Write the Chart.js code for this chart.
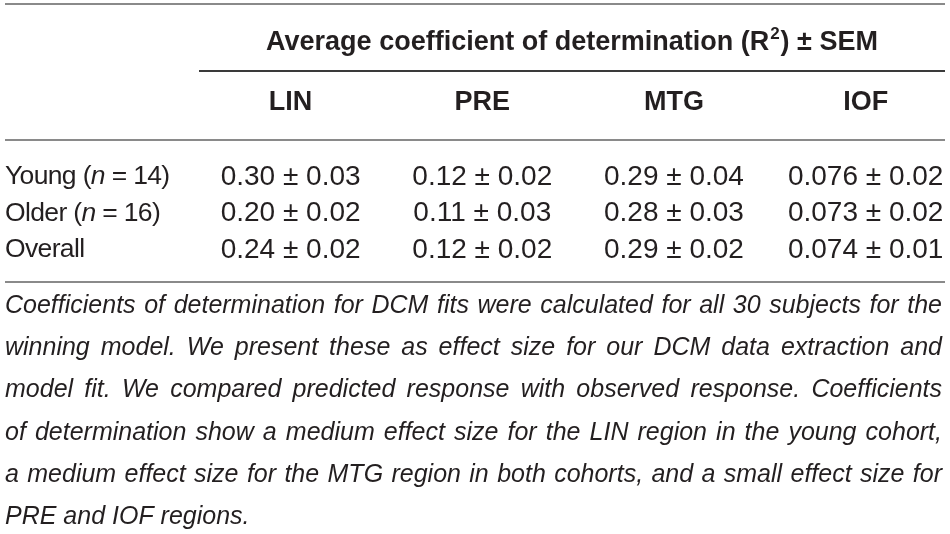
<!DOCTYPE html>
<html>
<head>
<meta charset="utf-8">
<script src="https://cdn.jsdelivr.net/npm/chart.js@4"></script>
<style>
html,body{margin:0;padding:0;background:#fff;}
canvas{display:block;}
</style>
</head>
<body>
<canvas id="c" width="950" height="534"></canvas>
<script>
// ---- Data ----
const title = 'Average coefficient of determination (R';
const titleSup = '2';
const titleEnd = ') \u00b1 SEM';
const regions = ['LIN', 'PRE', 'MTG', 'IOF'];
const decimals = [2, 2, 2, 3];
const cohorts = ['Young', 'Older', 'Overall'];
const cohortN = [14, 16, null];
const youngMean = [0.30, 0.12, 0.29, 0.076];
const youngSem = [0.03, 0.02, 0.04, 0.02];
const olderMean = [0.20, 0.11, 0.28, 0.073];
const olderSem = [0.02, 0.03, 0.03, 0.02];
const overallMean = [0.24, 0.12, 0.29, 0.074];
const overallSem = [0.02, 0.02, 0.02, 0.01];
const captionLines = [
  'Coefficients of determination for DCM fits were calculated for all 30 subjects for the',
  'winning model. We present these as effect size for our DCM data extraction and',
  'model fit. We compared predicted response with observed response. Coefficients',
  'of determination show a medium effect size for the LIN region in the young cohort,',
  'a medium effect size for the MTG region in both cohorts, and a small effect size for',
  'PRE and IOF regions.'
];

const rowLabels = cohorts.map((c, i) => c + (cohortN[i] != null ? ' (n = ' + cohortN[i] + ')' : ''));
const means = [youngMean, olderMean, overallMean];
const sems = [youngSem, olderSem, overallSem];

const TEXT = '#231f20';
const FONT = '"Liberation Sans", Arial, Helvetica, sans-serif';

const datasets = rowLabels.map((lab, r) => ({
  label: lab,
  data: means[r].map((m, i) => ({x: i + 1, y: lab, mean: m, sem: sems[r][i]})),
  pointRadius: 0,
  pointHoverRadius: 0,
  showLine: false
}));

function justify(ctx, text, left, right, y, last) {
  const words = text.split(' ');
  ctx.textAlign = 'left';
  if (last || words.length < 2) { ctx.fillText(text, left, y); return; }
  const widths = words.map(w => ctx.measureText(w).width);
  const sum = widths.reduce((a, b) => a + b, 0);
  const gap = (right - left - sum) / (words.length - 1);
  let x = left;
  words.forEach((w, i) => { ctx.fillText(w, x, y); x += widths[i] + gap; });
}

const tablePlugin = {
  id: 'tablePlugin',
  afterDraw(chart, args, o) {
    const ctx = chart.ctx;
    const xs = chart.scales.x;
    const ca = chart.chartArea;
    ctx.save();
    ctx.textBaseline = 'middle';
    ctx.fillStyle = TEXT;

    const rule = (y, x0, x1, color, w) => {
      ctx.strokeStyle = color; ctx.lineWidth = w;
      ctx.beginPath(); ctx.moveTo(x0, y); ctx.lineTo(x1, y); ctx.stroke();
    };
    rule(o.topRuleY, o.ruleLeft, o.ruleRight, '#8a8a8a', 2);
    rule(o.groupRuleY, o.groupRuleLeft, o.ruleRight, '#3a3a3a', 2);
    rule(o.headRuleY, o.ruleLeft, o.ruleRight, '#8a8a8a', 2);
    rule(o.bottomRuleY, o.ruleLeft, o.ruleRight, '#8a8a8a', 2);

    // group title with superscript
    const tFont = 'bold 27px ' + FONT, sFont = 'bold 17px ' + FONT;
    ctx.font = tFont;
    const w1 = ctx.measureText(title).width;
    const w3 = ctx.measureText(titleEnd).width;
    ctx.font = sFont;
    const w2 = ctx.measureText(titleSup).width;
    const total = w1 + w2 + 2 + w3;
    const cx = (o.groupRuleLeft + o.ruleRight) / 2;
    let tx = cx - total / 2;
    ctx.textAlign = 'left';
    ctx.font = tFont;
    ctx.fillText(title, tx, o.titleY);
    tx += w1 + 1;
    ctx.font = sFont;
    ctx.fillText(titleSup, tx, o.titleY - 9);
    tx += w2 + 1;
    ctx.font = tFont;
    ctx.fillText(titleEnd, tx, o.titleY);

    // column headers
    ctx.textAlign = 'center';
    regions.forEach((r, i) => ctx.fillText(r, xs.getPixelForValue(i + 1), o.colHeadY));

    // row labels and cells
    chart.data.datasets.forEach((ds, r) => {
      const meta = chart.getDatasetMeta(r);
      const y = meta.data[0].y;
      ctx.textAlign = 'left';
      ctx.letterSpacing = '-0.65px';
      let lx = ca.left;
      const base = '26.5px ' + FONT;
      ctx.font = base;
      if (cohortN[r] != null) {
        const p1 = cohorts[r] + ' (';
        ctx.fillText(p1, lx, y); lx += ctx.measureText(p1).width;
        ctx.font = 'italic ' + base;
        ctx.fillText('n', lx, y); lx += ctx.measureText('n').width;
        ctx.font = base;
        ctx.fillText(' = ' + cohortN[r] + ')', lx, y);
      } else {
        ctx.fillText(cohorts[r], lx, y);
      }
      ctx.letterSpacing = '0px';
      ctx.textAlign = 'center';
      ctx.font = '28px ' + FONT;
      meta.data.forEach((pt, i) => {
        const d = ds.data[i];
        const s = d.mean.toFixed(decimals[i]) + ' \u00b1 ' + d.sem.toFixed(2);
        ctx.fillText(s, pt.x, pt.y);
      });
    });

    // caption
    ctx.font = 'italic 25px ' + FONT;
    captionLines.forEach((line, i) => {
      justify(ctx, line, o.captionLeft, o.captionRight, o.captionTop + i * o.captionLH, i === captionLines.length - 1);
    });
    ctx.restore();
  }
};

new Chart(document.getElementById('c'), {
  type: 'scatter',
  data: { labels: rowLabels, datasets },
  plugins: [tablePlugin],
  options: {
    responsive: false,
    animation: false,
    events: [],
    layout: { padding: { top: 158.75, bottom: 265.75, left: 5, right: 5 } },
    scales: {
      x: { type: 'linear', min: -0.49, max: 4.414, display: false },
      y: { type: 'category', labels: rowLabels, offset: true, display: false }
    },
    plugins: {
      legend: { display: false },
      tooltip: { enabled: false },
      tablePlugin: {
        topRuleY: 4, groupRuleY: 71, headRuleY: 140, bottomRuleY: 282,
        ruleLeft: 5, ruleRight: 945, groupRuleLeft: 199,
        titleY: 43, colHeadY: 103,
        captionTop: 306, captionLH: 42.2, captionLeft: 5, captionRight: 942
      }
    }
  }
});
</script>
</body>
</html>
